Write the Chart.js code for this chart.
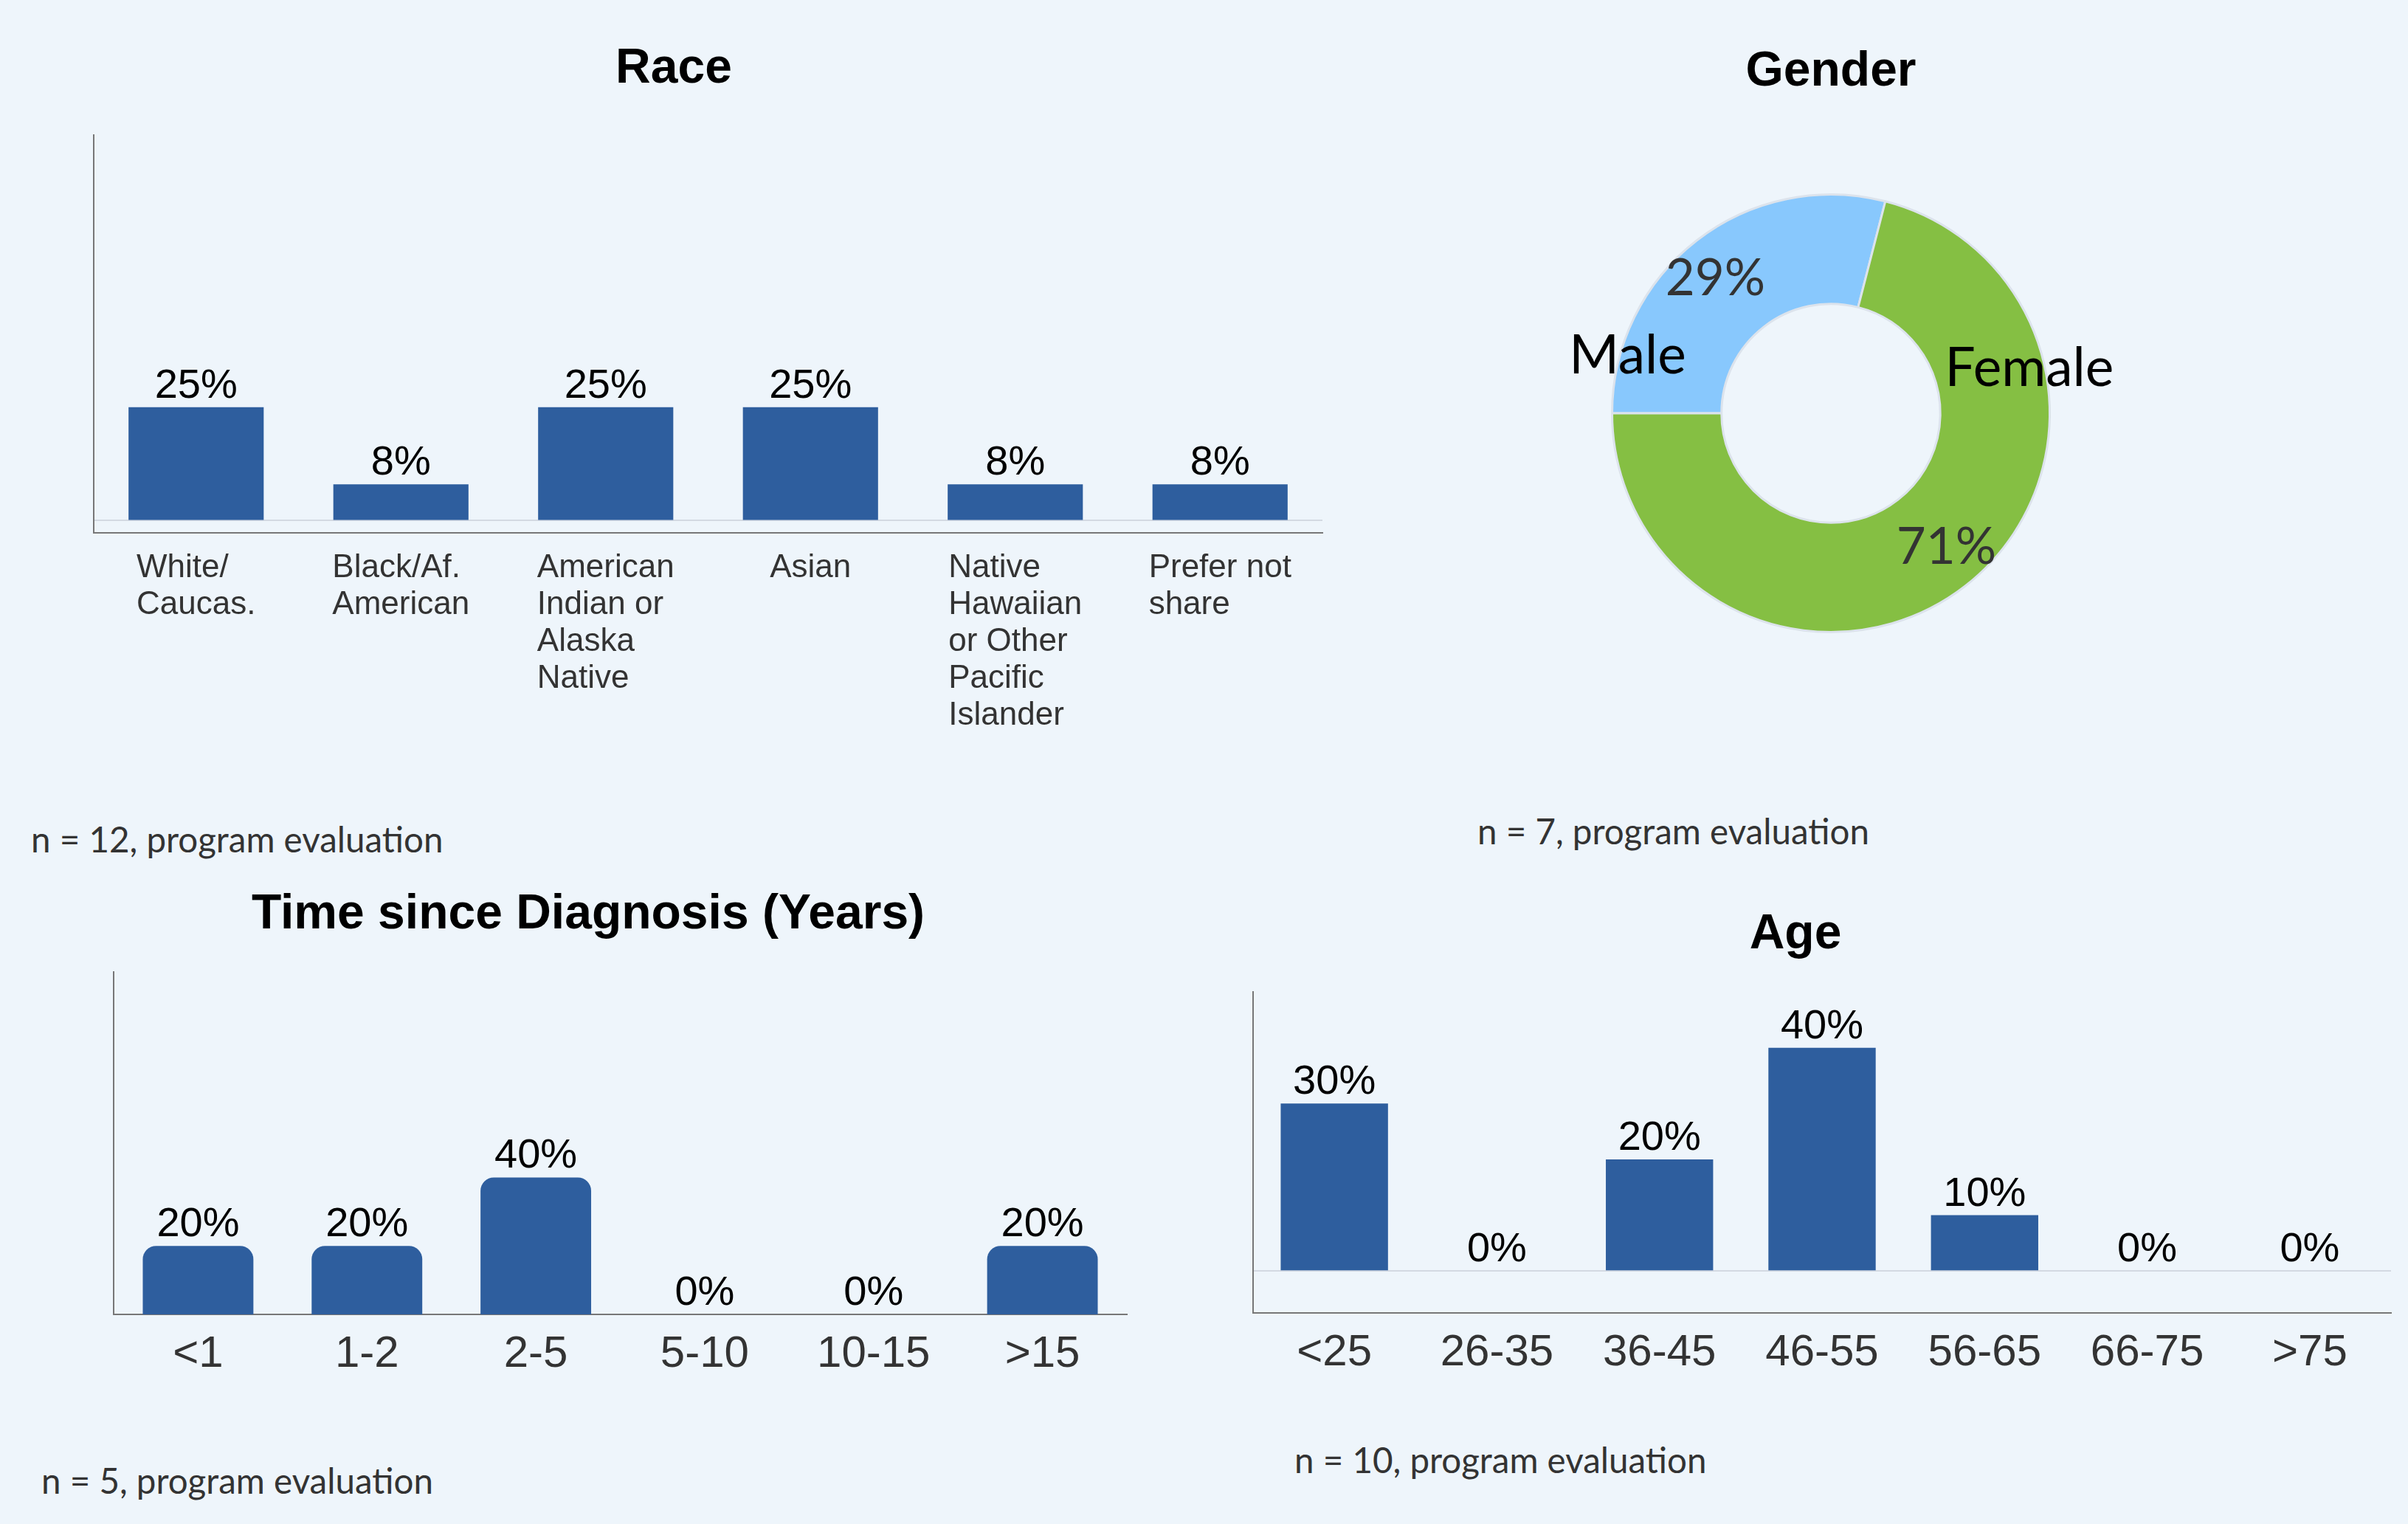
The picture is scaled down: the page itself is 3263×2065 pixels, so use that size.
<!DOCTYPE html>
<html>
<head>
<meta charset="utf-8">
<script src="https://cdn.jsdelivr.net/npm/chart.js@4.4.1/dist/chart.umd.min.js"></script>
<style>
  html, body { margin: 0; padding: 0; background: #EEF5FB; }
  body { width: 3263px; height: 2065px; position: relative; overflow: hidden; }
  canvas { position: absolute; }
  .title {
    position: absolute; transform: translate(-50%, -50%); white-space: nowrap;
    font: bold 66px 'Liberation Sans', Arial, sans-serif; color: #000;
  }
  .note {
    position: absolute; transform: translateY(-50%); white-space: nowrap;
    font: 47.5px Lato, sans-serif; color: #333;
  }
</style>
</head>
<body>
<div class="title" style="left:913px;top:89px">Race</div>
<div class="title" style="left:2481px;top:93px">Gender</div>
<div class="title" style="left:797px;top:1235px">Time since Diagnosis (Years)</div>
<div class="title" style="left:2433px;top:1262px">Age</div>

<canvas id="race"></canvas>
<canvas id="gender"></canvas>
<canvas id="diag"></canvas>
<canvas id="age"></canvas>

<div class="note" style="left:42px;top:1136px">n = 12, program evaluation</div>
<div class="note" style="left:2002px;top:1125px">n = 7, program evaluation</div>
<div class="note" style="left:56px;top:2005px">n = 5, program evaluation</div>
<div class="note" style="left:1754px;top:1977px">n = 10, program evaluation</div>

<script>
'use strict';

// ── Data ──
const raceLabels = [
  ['White/', 'Caucas.'],
  ['Black/Af.', 'American'],
  ['American', 'Indian or', 'Alaska', 'Native'],
  ['Asian'],
  ['Native', 'Hawaiian', 'or Other', 'Pacific', 'Islander'],
  ['Prefer not', 'share'],
];
const raceValues = [25, 8, 25, 25, 8, 8];

const genderLabels = ['Male', 'Female'];
const genderValues = [29, 71];

const diagLabels = ['<1', '1-2', '2-5', '5-10', '10-15', '>15'];
const diagValues = [20, 20, 40, 0, 0, 20];

const ageLabels = ['<25', '26-35', '36-45', '46-55', '56-65', '66-75', '>75'];
const ageValues = [30, 0, 20, 40, 10, 0, 0];

const BAR_BLUE = '#2E5E9E';
const AXIS_GRAY = '#777777';
const ZERO_GRAY = '#D3D9E2';
const SANS = "'Liberation Sans', Arial, sans-serif";

Chart.defaults.animation = false;
Chart.defaults.events = [];
Chart.defaults.plugins.legend.display = false;
Chart.defaults.plugins.tooltip.enabled = false;

// value labels above each bar
const barValueLabels = {
  id: 'barValueLabels',
  afterDatasetsDraw(chart) {
    const c = chart.ctx;
    const meta = chart.getDatasetMeta(0);
    const values = chart.data.datasets[0].data;
    c.save();
    c.font = `56px ${SANS}`;
    c.fillStyle = '#000';
    c.textAlign = 'center';
    c.textBaseline = 'alphabetic';
    meta.data.forEach((bar, i) => {
      c.fillText(values[i] + '%', bar.x, bar.y - 13);
    });
    c.restore();
  }
};

// multi-line category labels, left aligned inside a block centred on the tick
const blockTickLabels = {
  id: 'blockTickLabels',
  afterDraw(chart, args, opts) {
    if (!opts.lines) return;
    const c = chart.ctx;
    const scale = chart.scales.x;
    c.save();
    c.font = opts.font;
    c.fillStyle = opts.color;
    c.textAlign = 'left';
    c.textBaseline = 'middle';
    opts.lines.forEach((lines, i) => {
      const cx = scale.getPixelForTick(i);
      const w = Math.max(...lines.map(l => c.measureText(l).width));
      lines.forEach((l, k) => {
        c.fillText(l, cx - w / 2, scale.top + opts.offset + k * opts.lineHeight);
      });
    });
    c.restore();
  }
};

// area = chart area in page pixels, xH = height kept for the x axis
function makeBar(id, labels, values, area, cfg) {
  const pad = 10;
  const canvas = document.getElementById(id);
  canvas.width = area.r - area.l + pad * 2;
  canvas.height = area.b - area.t + pad + cfg.xH;
  canvas.style.left = (area.l - pad) + 'px';
  canvas.style.top = (area.t - pad) + 'px';

  new Chart(canvas, {
    type: 'bar',
    plugins: [barValueLabels, blockTickLabels],
    data: {
      labels: labels,
      datasets: [{
        data: values,
        backgroundColor: BAR_BLUE,
        borderWidth: 0,
        borderRadius: cfg.radius || 0,
        borderSkipped: 'start',
        barPercentage: cfg.barPct,
        categoryPercentage: 1.0,
      }]
    },
    options: {
      responsive: false,
      layout: { padding: { left: pad, right: pad, top: pad, bottom: 0 } },
      scales: {
        x: {
          grid: { display: false, drawTicks: false },
          border: { display: true, color: AXIS_GRAY, width: 2 },
          ticks: {
            display: !cfg.blockLabels,
            color: '#333',
            font: { family: SANS, size: 60 },
            padding: cfg.tickPad || 0,
            maxRotation: 0,
            autoSkip: false,
          },
          afterFit(s) { s.height = cfg.xH; },
        },
        y: {
          min: cfg.min,
          max: cfg.max,
          grid: {
            display: cfg.zeroLine,
            drawTicks: false,
            color: ZERO_GRAY,
            lineWidth: 2,
          },
          border: { display: true, color: AXIS_GRAY, width: 2 },
          ticks: { display: false },
          afterBuildTicks(s) { s.ticks = cfg.zeroLine ? [{ value: 0 }] : []; },
          afterFit(s) { s.width = 0; },
        }
      },
      plugins: {
        blockTickLabels: cfg.blockLabels ? {
          lines: cfg.blockLabels,
          font: `44px ${SANS}`,
          color: '#333',
          offset: 48,
          lineHeight: 50,
        } : {}
      }
    }
  });
}

makeBar('race', raceLabels.map(l => l.join(' ')), raceValues,
  { l: 127, t: 183, r: 1792, b: 722 },
  { xH: 300, min: -2.7, max: 85, zeroLine: true, barPct: 0.66, blockLabels: raceLabels });

makeBar('diag', diagLabels, diagValues,
  { l: 154, t: 1317, r: 1527, b: 1781 },
  { xH: 110, min: 0, max: 100, zeroLine: false, barPct: 0.655, radius: 18, tickPad: 18 });

makeBar('age', ageLabels, ageValues,
  { l: 1698, t: 1344, r: 3240, b: 1779 },
  { xH: 110, min: -7.5, max: 50, zeroLine: true, barPct: 0.66, tickPad: 18 });

// ── Gender doughnut ──
// per-slice placement of the category name: fraction along the arc, fraction of outer radius
const genderNamePos = [
  { frac: 0.15, r: 0.965 },
  { frac: 0.246, r: 0.93 },
];

const doughnutLabels = {
  id: 'doughnutLabels',
  afterDatasetsDraw(chart) {
    const c = chart.ctx;
    const meta = chart.getDatasetMeta(0);
    c.save();
    c.textAlign = 'center';
    c.textBaseline = 'middle';
    meta.data.forEach((arc, i) => {
      const { x, y, startAngle, endAngle, outerRadius } =
        arc.getProps(['x', 'y', 'startAngle', 'endAngle', 'outerRadius']);
      // percent sits a little before the middle of its arc
      const mid = (startAngle + endAngle) / 2 - 0.05;
      const rp = outerRadius * 0.81;
      c.font = '69px Lato, sans-serif';
      c.fillStyle = '#333';
      c.fillText(genderValues[i] + '%', x + Math.cos(mid) * rp, y + Math.sin(mid) * rp);

      const pos = genderNamePos[i];
      const a = startAngle + (endAngle - startAngle) * pos.frac;
      const rn = outerRadius * pos.r;
      c.font = '73px Lato, sans-serif';
      c.fillStyle = '#000';
      c.fillText(genderLabels[i], x + Math.cos(a) * rn, y + Math.sin(a) * rn);
    });
    c.restore();
  }
};

(function () {
  const canvas = document.getElementById('gender');
  canvas.width = 1000;
  canvas.height = 800;
  canvas.style.left = (2481 - 500) + 'px';
  canvas.style.top = (560 - 400) + 'px';

  new Chart(canvas, {
    type: 'doughnut',
    plugins: [doughnutLabels],
    data: {
      labels: genderLabels,
      datasets: [{
        data: genderValues,
        backgroundColor: ['#88C8FD', '#85BF43'],
        borderColor: '#DCE3EC',
        borderWidth: 3,
        hoverOffset: 0,
      }]
    },
    options: {
      responsive: false,
      rotation: -90,
      cutout: '50%',
      layout: { padding: { left: 202, right: 202, top: 102, bottom: 102 } },
    }
  });
})();
</script>
</body>
</html>
